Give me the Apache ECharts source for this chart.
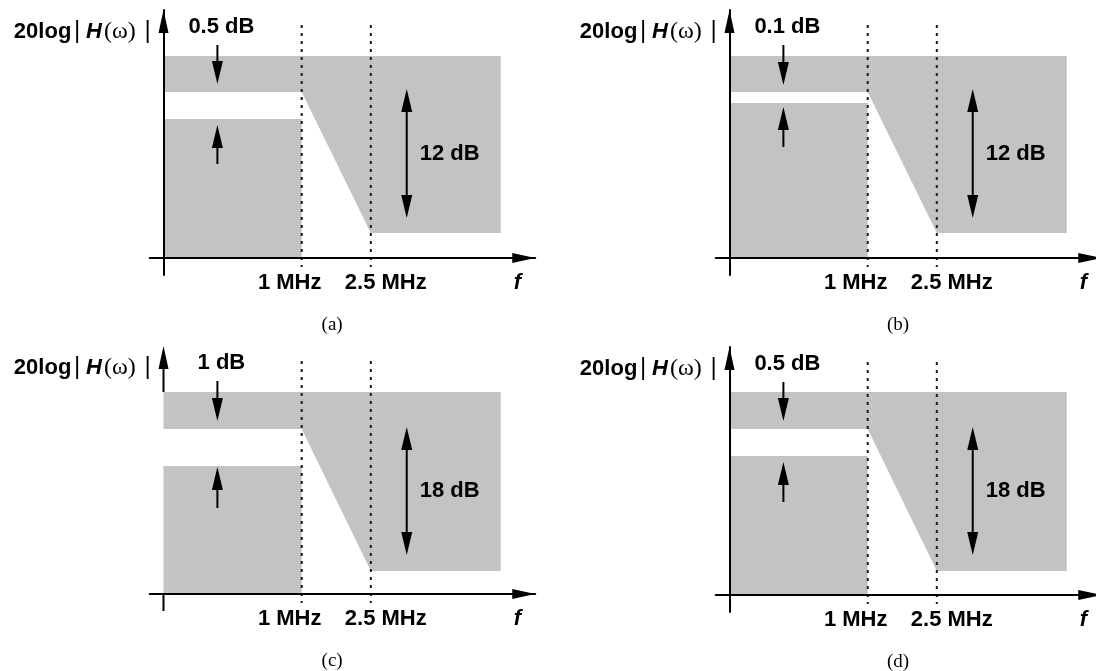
<!DOCTYPE html>
<html>
<head>
<meta charset="utf-8">
<script src="https://cdn.jsdelivr.net/npm/echarts@6/dist/echarts.min.js"></script>
<style>
  html, body { margin: 0; padding: 0; background: #fff; }
  #chart { width: 1096px; height: 671px; }
</style>
</head>
<body>
<div id="chart"></div>
<script>
// schematic frequency axis: 0 = DC, 1 = passband edge, 1.5 = stopband edge
const panelNames = ['(a)', '(b)', '(c)', '(d)'];
const rippleLabels = ['0.5 dB', '0.1 dB', '1 dB', '0.5 dB'];
const attenLabels = ['12 dB', '12 dB', '18 dB', '18 dB'];
const bandEdges = [1, 1.5];
const bandEdgeLabels = ['1 MHz', '2.5 MHz'];
const maskEnd = 2.44;

// mask levels (schematic height above the f axis)
const maskTop = [20.2, 20.2, 20.2, 20.3];
const passMax = [16.6, 16.6, 16.5, 16.6];
const passMin = [13.9, 15.5, 12.8, 13.9];
const stopMax = [2.5, 2.5, 2.3, 2.4];

// arrows: [x, from, to, heads]
const rippleArrowDown = [[0.39, 21.3, 17.4, 1], [0.39, 21.3, 17.3, 1], [0.39, 21.3, 17.3, 1], [0.39, 21.3, 17.4, 1]];
const rippleArrowUp = [[0.39, 9.4, 13.3, 1], [0.39, 11.1, 15.1, 1], [0.39, 8.6, 12.7, 1], [0.39, 9.3, 13.3, 1]];
const attenArrow = [[1.76, 16.9, 4.0, 2], [1.76, 16.9, 4.0, 2], [1.76, 16.7, 3.9, 2], [1.76, 16.8, 4.0, 2]];

// layout
const PX_X = 138.2, PX_Y = 10;
const X_MIN = -0.1, X_MAX = 2.69, Y_MIN = -1.7, Y_MAX = 24.8;
const GUIDE_TOP = 23.3, GUIDE_BOTTOM = -0.9;
const panelOrigins = [[163.5, 258], [729.5, 258], [163.5, 594], [729.5, 595]];
const brokenYAxis = [false, false, true, false];
const HEAD_LEN = 23, HEAD_W = 11;
const GRAY = '#c3c3c3';
const SANS = '"Liberation Sans", Arial, sans-serif';
const SERIF = '"Liberation Serif", "Times New Roman", serif';

const chart = echarts.init(document.getElementById('chart'));

function head(tip, dir, len, w) {
    return {
        type: 'polygon',
        shape: { points: [[tip[0], tip[1]], [tip[0] - w / 2, tip[1] - dir * len], [tip[0] + w / 2, tip[1] - dir * len]] },
        style: { fill: '#000' }
    };
}

function renderArrow(params, api) {
    const x = api.value(0);
    const p1 = api.coord([x, api.value(1)]);
    const p2 = api.coord([x, api.value(2)]);
    const both = api.value(3) === 2;
    const dir = p2[1] > p1[1] ? 1 : -1;
    const start = both ? [p1[0], p1[1] + dir * HEAD_LEN * 0.6] : p1;
    const end = [p2[0], p2[1] - dir * HEAD_LEN * 0.6];
    const children = [{
        type: 'line',
        shape: { x1: start[0], y1: start[1], x2: end[0], y2: end[1] },
        style: { stroke: '#000', lineWidth: 2 }
    }, head(p2, dir, HEAD_LEN, HEAD_W)];
    if (both) children.push(head(p1, -dir, HEAD_LEN, HEAD_W));
    return { type: 'group', children: children };
}

const grids = [], xAxes = [], yAxes = [], series = [];

panelOrigins.forEach(function (o, i) {
    grids.push({
        left: o[0] + X_MIN * PX_X,
        top: o[1] - Y_MAX * PX_Y,
        width: (X_MAX - X_MIN) * PX_X,
        height: (Y_MAX - Y_MIN) * PX_Y,
        containLabel: false,
        outerBoundsMode: 'none'
    });
    const axisLine = {
        onZero: true,
        symbol: ['none', 'triangle'],
        symbolSize: [10, 23],
        symbolOffset: [0, -11.5],
        lineStyle: { color: '#000', width: 2 }
    };
    xAxes.push({
        type: 'value', gridIndex: i, min: X_MIN, max: X_MAX, z: 5,
        axisLine: axisLine,
        axisTick: { show: false }, axisLabel: { show: false }, splitLine: { show: false }
    });
    yAxes.push({
        type: 'value', gridIndex: i, min: Y_MIN, max: Y_MAX, z: 5,
        axisLine: Object.assign({}, axisLine, { show: !brokenYAxis[i] }),
        axisTick: { show: false }, axisLabel: { show: false }, splitLine: { show: false }
    });

    // gray tolerance mask
    const polygons = [
        [[0, maskTop[i]], [maskEnd, maskTop[i]], [maskEnd, stopMax[i]], [bandEdges[1], stopMax[i]], [bandEdges[0], passMax[i]], [0, passMax[i]]],
        [[0, 0], [bandEdges[0], 0], [bandEdges[0], passMin[i]], [0, passMin[i]]]
    ];
    series.push({
        type: 'custom', xAxisIndex: i, yAxisIndex: i, z: 1, silent: true,
        data: polygons.map(function (p, k) { return [k, 0]; }),
        renderItem: function (params, api) {
            return {
                type: 'polygon',
                shape: { points: polygons[params.dataIndex].map(function (pt) { return api.coord(pt); }) },
                style: { fill: GRAY }
            };
        }
    });

    // dashed band-edge guides
    series.push({
        type: 'custom', xAxisIndex: i, yAxisIndex: i, z: 3, silent: true,
        data: bandEdges.map(function (e) { return [e, 0]; }),
        renderItem: function (params, api) {
            const a = api.coord([api.value(0), GUIDE_TOP]);
            const b = api.coord([api.value(0), GUIDE_BOTTOM]);
            return {
                type: 'line',
                shape: { x1: a[0], y1: a[1], x2: b[0], y2: b[1] },
                style: { stroke: '#1a1a1a', lineWidth: 2, lineDash: [3, 5] }
            };
        }
    });

    // ripple / attenuation arrows
    series.push({
        type: 'custom', xAxisIndex: i, yAxisIndex: i, z: 4, silent: true,
        data: [rippleArrowDown[i], rippleArrowUp[i], attenArrow[i]],
        renderItem: renderArrow
    });

    // texts
    series.push({
        type: 'custom', xAxisIndex: i, yAxisIndex: i, z: 4, silent: true,
        data: [[0, 0]],
        renderItem: function (params, api) {
            const children = [];
            const yl = api.coord([0, 22.6]);
            children.push({
                type: 'text', x: yl[0] - 12, y: yl[1],
                style: {
                    text: '{n|20log}{b1||}{h|H}{p|(ω)}{b2||}',
                    align: 'right', verticalAlign: 'middle', fill: '#000',
                    rich: {
                        n: { font: 'bold 22px ' + SANS, fill: '#000', verticalAlign: 'middle' },
                        b1: { font: '23px "DejaVu Sans"', fill: '#000', padding: [0, 5, 0, 2], verticalAlign: 'middle' },
                        h: { font: 'italic bold 22px ' + SANS, fill: '#000', padding: [0, 2, 0, 0], verticalAlign: 'middle' },
                        p: { font: '24px ' + SERIF, fill: '#000', verticalAlign: 'middle' },
                        b2: { font: '23px "DejaVu Sans"', fill: '#000', padding: [0, 0, 0, 8], verticalAlign: 'middle' }
                    }
                }
            });
            const rl = api.coord([rippleArrowDown[i][0], 23.1]);
            children.push({
                type: 'text', x: rl[0] + 4, y: rl[1],
                style: { text: rippleLabels[i], font: 'bold 22px ' + SANS, fill: '#000', align: 'center', verticalAlign: 'middle' }
            });
            const al = api.coord([attenArrow[i][0], (attenArrow[i][1] + attenArrow[i][2]) / 2]);
            children.push({
                type: 'text', x: al[0] + 13, y: al[1],
                style: { text: attenLabels[i], font: 'bold 22px ' + SANS, fill: '#000', align: 'left', verticalAlign: 'middle' }
            });
            const shifts = [-12, 15];
            bandEdges.forEach(function (e, k) {
                const p = api.coord([e, 0]);
                children.push({
                    type: 'text', x: p[0] + shifts[k], y: p[1] + 25,
                    style: { text: bandEdgeLabels[k], font: 'bold 22px ' + SANS, fill: '#000', align: 'center', verticalAlign: 'middle' }
                });
            });
            const fp = api.coord([2.56, 0]);
            children.push({
                type: 'text', x: fp[0], y: fp[1] + 25,
                style: { text: 'f', font: 'italic bold 22px ' + SANS, fill: '#000', align: 'center', verticalAlign: 'middle' }
            });
            const np = api.coord([1.22, 0]);
            children.push({
                type: 'text', x: np[0], y: np[1] + 67,
                style: { text: panelNames[i], font: '19px ' + SERIF, fill: '#000', align: 'center', verticalAlign: 'middle' }
            });
            if (brokenYAxis[i]) {
                const t0 = api.coord([0, maskTop[i]]);
                const t1 = api.coord([0, Y_MAX]);
                const b0 = api.coord([0, 0]);
                const b1 = api.coord([0, Y_MIN]);
                children.push({ type: 'line', shape: { x1: t0[0], y1: t0[1], x2: t1[0], y2: t1[1] + 12 }, style: { stroke: '#000', lineWidth: 2 } });
                children.push(head(t1, -1, 23, 10));
                children.push({ type: 'line', shape: { x1: b0[0], y1: b0[1], x2: b1[0], y2: b1[1] }, style: { stroke: '#000', lineWidth: 2 } });
            }
            return { type: 'group', children: children };
        }
    });
});

chart.setOption({
    animation: false,
    backgroundColor: '#fff',
    grid: grids,
    xAxis: xAxes,
    yAxis: yAxes,
    series: series
});
</script>
</body>
</html>
